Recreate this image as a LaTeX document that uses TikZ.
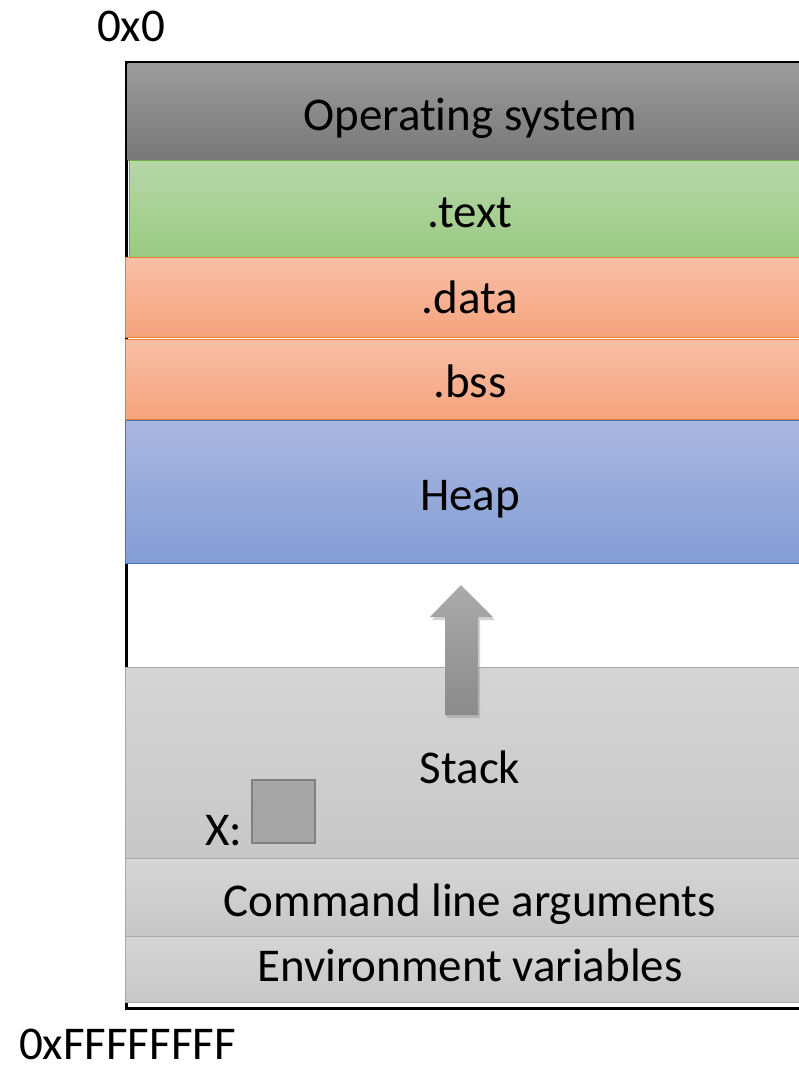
\documentclass[tikz,border=0pt]{standalone}
\usepackage{fontspec}
\setmainfont{Carlito}[Ligatures=NoCommon]
\usetikzlibrary{shadows}
\definecolor{osT}{HTML}{9C9C9C}\definecolor{osB}{HTML}{777777}
\definecolor{grT}{HTML}{B6D7A8}\definecolor{grB}{HTML}{9BC983}\definecolor{grL}{HTML}{70AD47}
\definecolor{orT}{HTML}{F8BFA7}\definecolor{orB}{HTML}{F5A37D}\definecolor{orL}{HTML}{ED7D31}
\definecolor{blT}{HTML}{AAB7DF}\definecolor{blB}{HTML}{849DD5}\definecolor{blL}{HTML}{4472C4}
\definecolor{stT}{HTML}{D5D5D5}\definecolor{stB}{HTML}{C7C7C7}\definecolor{stL}{HTML}{A9A9A9}
\definecolor{arT}{HTML}{ABABAB}\definecolor{arB}{HTML}{8A8A8A}
\tikzset{
  band/.style={rectangle, anchor=north west, inner sep=0pt, line width=1.2pt},
  lbl/.style={anchor=base, inner sep=0pt, font=\fontsize{47pt}{56pt}\selectfont},
}
\begin{document}
\begin{tikzpicture}[x=1pt,y=-1pt]
\clip (0,0) rectangle (799,1065);
\fill[white] (0,0) rectangle (799,1065);
% frame
\draw[line width=3pt] (830,63) -- (126,63) -- (126,1008) -- (830,1008);
% bands
\node[band, top color=osT, bottom color=osB, minimum width=690pt, minimum height=97pt] (os) at (127,63) {};
\node[band, draw=grL, top color=grT, bottom color=grB, minimum width=690pt, minimum height=97pt] (txt) at (129,160) {};
\node[band, draw=orL, top color=orT, bottom color=orB, minimum width=690pt, minimum height=80pt] (dat) at (125,257) {};
\node[band, draw=orL, top color=orT, bottom color=orB, minimum width=690pt, minimum height=80pt] (bss) at (125,339) {};
\node[band, draw=blL, top color=blT, bottom color=blB, minimum width=690pt, minimum height=143pt] (heap) at (125,420) {};
\node[band, draw=stL, top color=stT, bottom color=stB, minimum width=690pt, minimum height=191pt] (stack) at (125,667) {};
\node[band, draw=stL, top color=stT, bottom color=stB, minimum width=690pt, minimum height=78pt] (cmd) at (125,858) {};
\node[band, draw=stL, top color=stT, bottom color=stB, minimum width=690pt, minimum height=66pt] (env) at (125,936) {};
% labels
\node[lbl] (tos) at (470,130) {Operat\kern0pt ing system};
\node[lbl] (ttxt) at (470,227) {.text};
\node[lbl] (tdat) at (470,313) {.data};
\node[lbl] (tbss) at (470,397) {.bss};
\node[lbl] (theap) at (470,510) {Heap};
\node[lbl] (tstack) at (470,783) {Stack};
\node[lbl] (tcmd) at (470,916) {Command line arguments};
\node[lbl] (tenv) at (470,981) {Environment variables};
\node[lbl] (t0) at (131,42) {0x0};
\node[lbl] (tF) at (127.5,1059) {0xFFFFFFFF};
% growth arrow
\path[top color=arT, bottom color=arB, drop shadow={opacity=0.35, shadow xshift=2pt, shadow yshift=-3pt}]
  (461,585) -- (493,617) -- (478,617) -- (478,715) -- (445,715) -- (445,617) -- (430,617) -- cycle;
% variable x
\node[draw=black!50, fill=black!35, line width=2pt, minimum size=63pt, inner sep=0pt] (xbox) at (283.5,811.5) {};
\node[lbl] (xl) at (224,845) {X:};
\end{tikzpicture}
\end{document}
